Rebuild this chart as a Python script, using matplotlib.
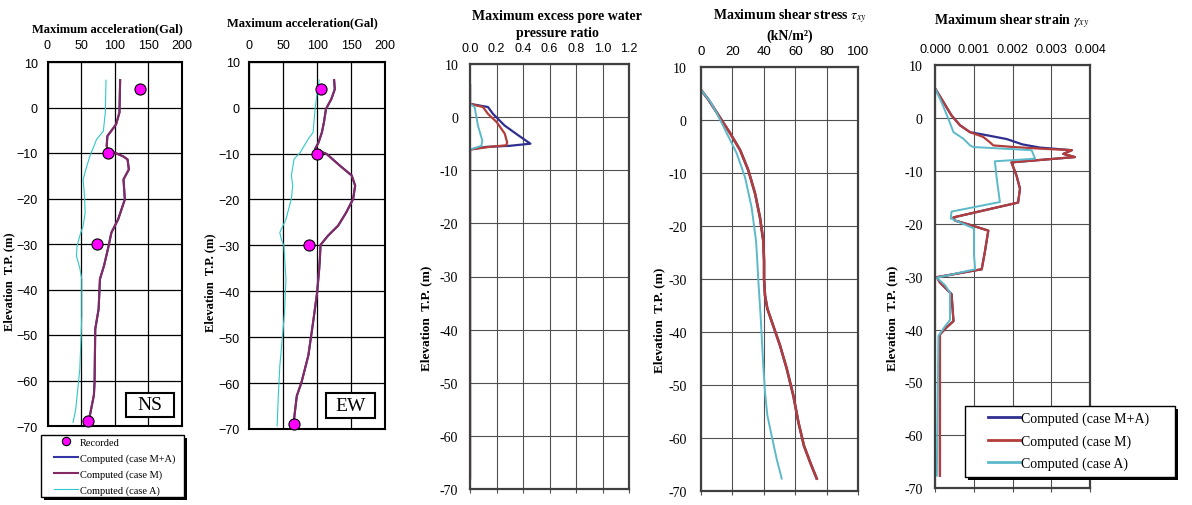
import matplotlib
matplotlib.use('Agg')
import matplotlib.pyplot as plt
from matplotlib.lines import Line2D
from matplotlib.patches import Rectangle

plt.rcParams['mathtext.fontset'] = 'stix'

# ---- data ----
elev_rec = [4, -10, -30, -69]
ns_rec = [137, 90, 74, 60]
ew_rec = [105, 100, 88, 66]

# NS, case M (case M+A lies on top of it)
ns_m_elev = [6.0, -1.1, -3.7, -6.3, -8.5, -9.3, -10.7, -11.4, -13.6, -15.8, -20.2,
             -24.6, -27.5, -31.0, -34.8, -37.7, -44.3, -48.7, -60.3, -63.2, -67.7, -69.0]
ns_m = [108, 107, 102, 89, 88, 90, 112, 119, 121, 113, 115,
        105, 95, 90, 84, 78, 76, 71, 70, 69, 63, 61]
ns_a_elev = [6.0, -1.1, -5.2, -7.0, -8.5, -10.7, -13.6, -15.8, -19.5, -23.1, -26.0,
             -28.2, -30.4, -32.6, -35.3, -37.7, -45.8, -50.1, -57.5, -61.9, -66.3, -69.2]
ns_a = [87, 86, 83, 73, 69, 63, 57, 53, 55, 56, 53,
        48, 44, 43, 48, 51, 51, 50, 48, 45, 42, 38]

# EW
ew_m_elev = [6.0, 4.0, 1.9, -0.3, -3.2, -5.4, -7.6, -9.0, -10.1, -12.7, -14.8, -17.0, -19.9,
             -22.8, -25.7, -27.9, -29.9, -33.0, -35.2, -40.2, -46.8, -54.0, -59.8, -62.8, -67.8, -69.0]
ew_m = [125, 126, 121, 113, 110, 107, 102, 97, 114, 134, 151, 156, 153,
        143, 131, 116, 105, 104, 103, 100, 94, 87, 77, 70, 66, 66]
ew_a_elev = [6.0, 3.3, -0.3, -5.4, -6.8, -9.8, -11.2, -14.8, -17.0, -19.9, -24.3, -27.2,
             -28.6, -30.1, -37.3, -44.5, -49.7, -56.2, -62.0, -69.3]
ew_a = [103, 100, 97, 94, 87, 75, 66, 62, 64, 62, 54, 45,
        47, 51, 54, 52, 49, 45, 43, 41]

# excess pore water pressure ratio
pp_ma_elev = [6, 2.5, 1.9, 0.6, -1.6, -3.4, -5.0, -5.4, -5.6, -6.1, -68]
pp_ma = [0, 0, 0.136, 0.174, 0.262, 0.363, 0.456, 0.30, 0.124, 0, 0]
pp_m_elev = [6, 2.5, 1.9, 0.6, -0.9, -3.1, -4.7, -5.3, -5.6, -6.1, -68]
pp_m = [0, 0, 0.098, 0.136, 0.20, 0.262, 0.28, 0.275, 0.149, 0, 0]
pp_a_elev = [6, 2.5, 1.9, -1.6, -4.4, -5.4, -6.1, -68]
pp_a = [0, 0, 0.035, 0.06, 0.093, 0.086, 0, 0]

# shear stress (kN/m2), case M+A same as case M
ss_m_elev = [5.7, 3.8, 0.9, -2.5, -5.7, -9.5, -13.9, -18.4, -22.8, -26.6, -30, -33.1,
             -35.6, -38.8, -42.5, -46.9, -52, -57, -61.4, -64.5, -67.6]
ss_m = [0, 4.9, 11.2, 18.6, 25, 30.2, 34.5, 37.6, 39.7, 40.2, 40.2, 40.8,
        42.3, 46, 50.3, 54.6, 58.8, 62, 65.5, 69.4, 73.6]
ss_a_elev = [5.7, 3.5, 1.3, -2.5, -6.3, -10.8, -16.5, -22.8, -26.6, -30, -36.9,
             -46.3, -51.3, -55.7, -59.5, -63.9, -67.6]
ss_a = [0, 5.9, 10.1, 16.5, 22.8, 28.1, 32.3, 35.1, 35.9, 36.5, 38,
        39.7, 40.8, 42.3, 45, 48.2, 51.4]

# shear strain
gs_m_elev = [5.5, 3.6, 0.46, -1.4, -2.7, -3.6, -4.6, -5.2, -5.5, -5.8, -6.1, -6.8, -7.4, -8.4,
             -10.9, -13.4, -16.0, -16.5, -18.8, -19.4, -20.4, -21.3, -25.4, -28.6, -30.1,
             -31.1, -33.3, -38.4, -39.6, -40.9, -67.6]
gs_m = [0, 0.00016, 0.00042, 0.00064, 0.00090, 0.00124, 0.00141, 0.00150, 0.00202, 0.00270,
        0.00353, 0.00331, 0.00361, 0.00197, 0.00210, 0.00219, 0.00214, 0.00184, 0.00047,
        0.00051, 0.00098, 0.00137, 0.00128, 0.00120, 0.00004, 0.00012, 0.00042, 0.00047,
        0.00029, 0.00012, 0.00012]
gs_ma_elev = [5.5, 3.6, 0.46, -1.4, -2.7, -3.3, -4.0, -5.0, -5.6, -6.1, -6.8, -7.4, -8.4,
              -10.9, -13.4, -16.0, -16.5, -18.8, -19.4, -20.4, -21.3, -25.4, -28.6, -30.1,
              -31.1, -33.3, -38.4, -39.6, -40.9, -67.6]
gs_ma = [0, 0.00016, 0.00042, 0.00064, 0.00090, 0.00135, 0.00185, 0.00225, 0.00270,
         0.00353, 0.00331, 0.00361, 0.00197, 0.00210, 0.00219, 0.00214, 0.00184, 0.00047,
         0.00051, 0.00098, 0.00137, 0.00128, 0.00120, 0.00004, 0.00012, 0.00042, 0.00047,
         0.00029, 0.00012, 0.00012]
gs_a_elev = [5.5, 2.3, -0.2, -2.7, -3.9, -5.2, -5.5, -6.1, -7.7, -8.2, -11.5, -15.9, -17.7,
             -19.0, -20.9, -25.9, -28.6, -30.2, -31.6, -33.0, -38.2, -39.4, -41.2, -67.6]
gs_a = [0, 0.00020, 0.00034, 0.00047, 0.00072, 0.00090, 0.00098, 0.00249, 0.00258, 0.00154,
        0.00159, 0.00167, 0.00042, 0.00040, 0.00100, 0.00100, 0.00103, 0.00004, 0.00025,
        0.00038, 0.00038, 0.00025, 0.00008, 0.00004]

elev_ticks = list(range(-70, 11, 10))

W, H = 1192, 506
fig = plt.figure(figsize=(W / 100, H / 100), dpi=100)
SERIF = 'Liberation Serif'
SANS = 'Liberation Sans'


def rect(l, t, r, b):
    return [l / W, 1 - b / H, (r - l) / W, (b - t) / H]


def legend_frame(l, t, r, b, off=3):
    # boxed legend with a solid drop shadow, drawn in figure pixels
    x, y, w, h = rect(l, t, r, b)
    fig.patches.append(Rectangle((x + off / W, y - off / H), w, h, transform=fig.transFigure,
                                 fc='black', ec='none', zorder=2))
    fig.patches.append(Rectangle((x, y), w, h, transform=fig.transFigure,
                                 fc='white', ec='black', lw=1, zorder=3))


def accel_axes(pos, title, title_xy, ylab_x):
    ax = fig.add_axes(rect(*pos))
    ax.set_xlim(0, 200)
    ax.set_ylim(-70, 10)
    ax.set_xticks([0, 50, 100, 150, 200])
    ax.set_yticks(elev_ticks)
    ax.xaxis.tick_top()
    ax.grid(True, color='black', lw=0.9)
    ax.tick_params(length=0, labelsize=9, labelfontfamily=SANS)
    ax.tick_params(axis='x', pad=8)
    ax.tick_params(axis='y', pad=7)
    for s in ax.spines.values():
        s.set_linewidth(1.5)
    ax.set_ylabel('Elevation  T.P. (m)', family=SERIF, weight='bold', fontsize=9)
    ax.yaxis.set_label_coords(ylab_x, 0.40)
    fig.text(title_xy[0] / W, 1 - title_xy[1] / H, title, ha='center', va='center',
             family=SERIF, weight='bold', fontsize=9)
    return ax


c_ma1, c_m1, c_a1 = '#3535a5', '#842a62', '#30c8c8'

ax1 = accel_axes((47.5, 63, 182, 427), 'Maximum acceleration(Gal)', (107, 29), -0.24)
ax1.plot(ns_m, ns_m_elev, color=c_ma1, lw=1.5)
ax1.plot(ns_m, ns_m_elev, color=c_m1, lw=1.5)
ax1.plot(ns_a, ns_a_elev, color=c_a1, lw=0.8)
ax1.plot(ns_rec, elev_rec, 'o', ms=8, mfc='#ff00ff', mec='black', mew=0.8, clip_on=False, zorder=5)
ax1.add_patch(Rectangle((0.584, 0.025), 0.356, 0.066, transform=ax1.transAxes,
                        fc='white', ec='black', lw=1.5, zorder=6))
ax1.text(0.762, 0.058, 'NS', transform=ax1.transAxes, ha='center', va='center',
         family=SERIF, fontsize=14, zorder=7)

ax2 = accel_axes((249.3, 62.7, 385, 430), 'Maximum acceleration(Gal)', (302, 23), -0.245)
ax2.plot(ew_m, ew_m_elev, color=c_ma1, lw=1.5)
ax2.plot(ew_m, ew_m_elev, color=c_m1, lw=1.5)
ax2.plot(ew_a, ew_a_elev, color=c_a1, lw=0.8)
ax2.plot(ew_rec, elev_rec, 'o', ms=8, mfc='#ff00ff', mec='black', mew=0.8, clip_on=False, zorder=5)
ax2.add_patch(Rectangle((0.565, 0.030), 0.361, 0.068, transform=ax2.transAxes,
                        fc='white', ec='black', lw=1.5, zorder=6))
ax2.text(0.745, 0.064, 'EW', transform=ax2.transAxes, ha='center', va='center',
         family=SERIF, fontsize=14, zorder=7)

legend_frame(41, 436, 184, 498, off=3)
h1 = [Line2D([], [], ls='none', marker='o', ms=6, mfc='#ff00ff', mec='black', mew=0.8),
      Line2D([], [], color=c_ma1, lw=1.5),
      Line2D([], [], color=c_m1, lw=1.5),
      Line2D([], [], color=c_a1, lw=0.8)]
fig.legend(h1, ['Recorded', 'Computed (case M+A)', 'Computed (case M)', 'Computed (case A)'],
           loc='upper left', bbox_to_anchor=(54 / W, 1 - 438.5 / H), borderaxespad=0,
           prop={'family': SERIF, 'size': 7.5}, handlelength=2.3, handletextpad=0.15,
           labelspacing=0.62, borderpad=0, frameon=False)


def profile_axes(pos, xmax, xstep, fmt, xsize, title, title_xy, ypad, ylab_x):
    ax = fig.add_axes(rect(*pos))
    ax.set_xlim(0, xmax)
    ax.set_ylim(-70, 10)
    xt = [i * xstep for i in range(int(round(xmax / xstep)) + 1)]
    ax.set_xticks(xt)
    ax.set_xticklabels([fmt % v for v in xt])
    ax.set_yticks(elev_ticks)
    ax.set_yticklabels([str(v) for v in elev_ticks])
    ax.grid(True, color='#505050', lw=0.8)
    ax.tick_params(axis='x', top=False, bottom=True, labeltop=True, labelbottom=False,
                   length=3, color='#505050', labelsize=xsize, labelfontfamily=SANS, pad=4)
    ax.tick_params(axis='y', length=0, labelsize=10, labelfontfamily=SERIF, pad=ypad)
    for s in ax.spines.values():
        s.set_linewidth(1.6)
        s.set_color('#404040')
    ax.set_ylabel('Elevation  T.P. (m)', family=SERIF, weight='bold', fontsize=9.5)
    ax.yaxis.set_label_coords(ylab_x, 0.405)
    fig.text(title_xy[0] / W, 1 - title_xy[1] / H, title, ha='center', va='center',
             family=SERIF, weight='bold', fontsize=10, linespacing=1.45)
    return ax


c_ma, c_m, c_a = '#2e2f8f', '#b23d3a', '#5cb9c9'

ax3 = profile_axes((470, 65, 629, 490), 1.2, 0.2, '%.1f', 9,
                   'Maximum excess pore water\npressure ratio', (557, 25), 8.5, -0.235)
ax3.plot(pp_ma, pp_ma_elev, color=c_ma, lw=1.6)
ax3.plot(pp_m, pp_m_elev, color=c_m, lw=1.6)
ax3.plot(pp_a, pp_a_elev, color=c_a, lw=1.4)

ax4 = profile_axes((700.7, 67.7, 858.3, 492.3), 100, 20, '%d', 9.5,
                   'Maximum shear stress $\\tau_{xy}$\n(kN/m\u00b2)', (790, 25.5), 10, -0.225)
ax4.plot(ss_m, ss_m_elev, color=c_ma, lw=1.8)
ax4.plot(ss_m, ss_m_elev, color=c_m, lw=1.8)
ax4.plot(ss_a, ss_a_elev, color=c_a, lw=1.4)

ax5 = profile_axes((935.3, 66, 1090, 489.3), 0.004, 0.001, '%.3f', 9.2,
                   'Maximum shear strain $\\gamma_{xy}$', (1012, 21), 9, -0.24)
ax5.plot(gs_ma, gs_ma_elev, color=c_ma, lw=1.6)
ax5.plot(gs_m, gs_m_elev, color=c_m, lw=1.6)
ax5.plot(gs_a, gs_a_elev, color=c_a, lw=1.4)

legend_frame(965, 407, 1175, 478, off=3)
h5 = [Line2D([], [], color=c_ma, lw=2), Line2D([], [], color=c_m, lw=2),
      Line2D([], [], color=c_a, lw=2)]
fig.legend(h5, ['Computed (case M+A)', 'Computed (case M)', 'Computed (case A)'],
           loc='upper left', bbox_to_anchor=(988 / W, 1 - 413 / H), borderaxespad=0,
           prop={'family': SERIF, 'size': 10}, handlelength=2.3, handletextpad=0.1,
           labelspacing=0.62, borderpad=0, frameon=False)

fig.savefig('out.png', dpi=100)
